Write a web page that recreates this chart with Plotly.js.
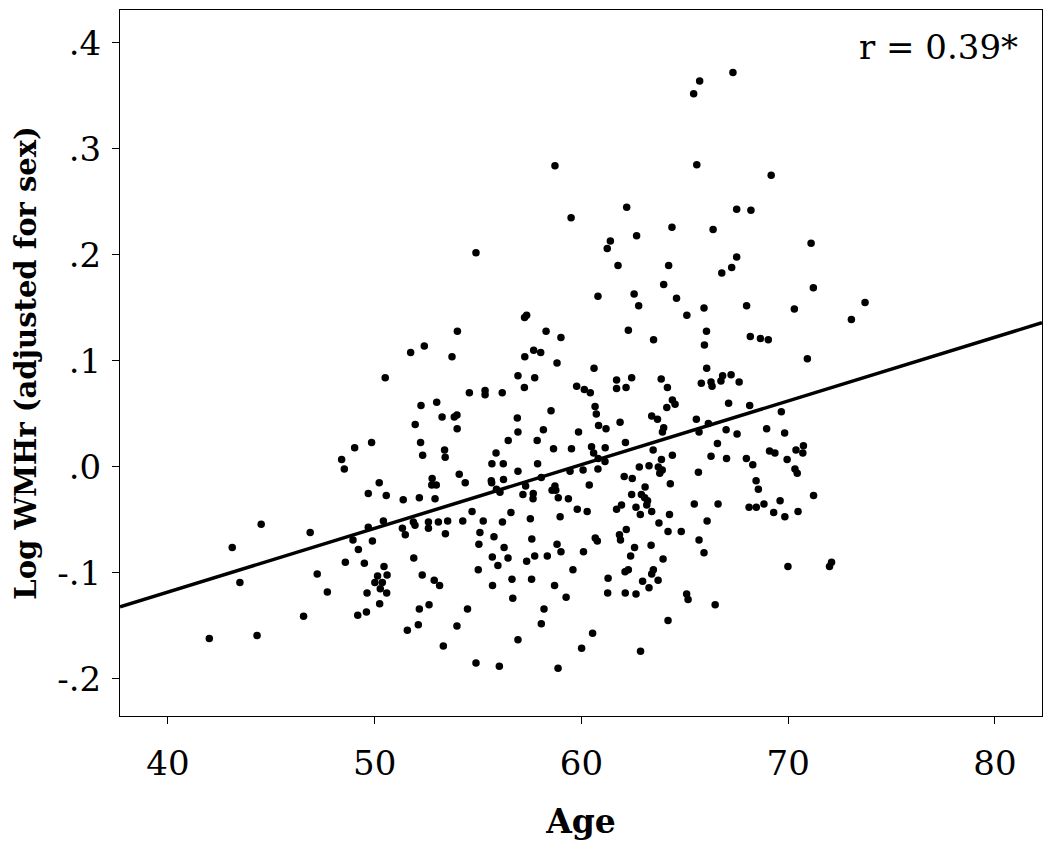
<!DOCTYPE html>
<html>
<head>
<meta charset="utf-8">
<script src="https://cdn.plot.ly/plotly-3.0.1.min.js"></script>
<style>
  body { margin: 0; background: #fff; }
  #grafico { width: 1050px; height: 857px; }
</style>
</head>
<body>
<div id="grafico"></div>
<script>
// Age and log WMHr (adjusted for sex), one entry per participant
const ages = [
    67.33, 65.72, 65.43, 65.58, 69.18, 67.51, 68.20, 58.72, 62.19, 59.50, 51.74, 52.40, 54.90, 61.40, 61.25, 62.67,
    61.77, 60.80, 62.55, 62.77, 57.25, 57.35, 54.00, 58.29, 59.01, 62.27, 63.49, 53.74, 57.26, 57.69, 58.03, 58.82, 60.61,
    64.38, 66.37, 71.11, 67.51, 67.27, 66.79, 64.22, 63.98, 71.22, 64.60, 65.10, 65.93, 67.99, 70.30, 73.72, 73.06,
    66.05, 65.95, 68.17, 68.66, 69.04, 70.93, 66.06,
    50.51, 52.24, 51.96, 52.22, 52.32, 49.85, 49.03, 48.40, 48.53, 50.22, 49.69, 50.56, 51.38, 52.16, 44.51, 50.42, 51.87,
    56.93, 57.74, 57.24, 54.58, 55.34, 55.34, 56.17, 59.77, 60.14, 60.43, 61.70, 61.70, 62.16, 62.43, 53.00, 53.26,
    53.85, 53.98, 53.99, 58.53, 60.66, 60.72, 60.83, 61.19, 61.87, 63.40, 56.90, 56.93, 58.16, 59.86, 56.46, 57.86,
    62.13, 53.38, 53.41, 55.87, 58.65, 59.52, 60.49, 60.59, 61.15, 63.47, 55.67, 56.22, 57.88, 60.81, 61.14, 56.93,
    60.08, 60.80, 59.45, 62.80, 63.27, 52.78, 54.09, 54.38, 52.76, 52.98, 55.64, 55.66, 56.23, 58.06, 57.30, 55.89,
    56.06, 60.38, 62.07, 62.46, 63.08, 58.72, 58.58, 58.76, 52.92, 57.17, 57.67, 57.66, 58.88, 59.37, 62.43, 62.90,
    63.06, 63.20, 63.16, 61.70, 61.94, 62.64, 54.71, 56.59, 59.80, 60.28, 58.97, 57.53, 52.60, 53.08, 53.53, 54.26,
    55.25, 56.18, 62.85, 63.40,
    63.86, 64.16, 65.80, 66.27, 66.32, 66.75, 66.83, 67.24, 67.63, 64.40, 64.53, 64.13, 67.12, 68.14, 69.67, 63.68,
    65.56, 66.14, 63.98, 63.92, 65.69, 67.00, 67.53, 68.96, 69.83, 66.58, 64.40, 66.27, 69.10, 69.36, 70.38, 70.74,
    70.71, 63.87, 67.02, 67.98, 68.29, 69.95, 63.72, 63.91, 63.79, 65.66, 70.33, 70.44, 64.30, 68.45, 68.56, 71.23,
    65.46, 66.61, 68.11, 68.46, 68.83, 69.61, 69.30, 69.84, 70.48, 64.26, 66.08, 63.75,
    46.88, 43.11, 43.48, 42.00, 44.31, 46.56, 47.22, 47.71, 48.58, 48.95, 49.21, 49.50, 49.89, 49.69, 50.45, 50.60,
    50.14, 50.01, 50.37, 50.27, 49.63, 50.58, 50.24, 49.18, 49.60, 51.34, 51.48, 51.95, 51.89, 52.30, 52.16, 52.11, 51.58,
    52.60, 53.42, 55.09, 55.04, 55.77, 56.26, 55.69, 55.96, 56.45, 55.01, 57.35, 57.74, 57.60, 58.35, 58.82, 59.01,
    60.10, 59.59, 60.67, 60.77, 61.84, 61.89, 62.17, 62.57, 62.38, 63.37, 62.11, 62.27, 63.48, 63.40, 62.96, 63.27,
    61.29, 61.27, 62.12, 62.64, 52.88, 53.14, 52.63, 55.70, 56.64, 57.59, 56.68, 58.70, 59.26, 54.49, 58.19, 58.06,
    53.98, 53.32, 56.93, 60.54, 60.01, 62.86, 54.90, 56.03, 58.87,
    64.19, 64.83, 65.69, 65.93, 63.95, 63.71, 65.09, 65.16, 66.47, 64.19, 69.99, 72.10, 72.00
];
const logWMHr = [
    0.372, 0.364, 0.352, 0.285, 0.275, 0.243, 0.242, 0.284, 0.245, 0.235, 0.108, 0.114, 0.202, 0.213, 0.206, 0.218,
    0.190, 0.161, 0.163, 0.152, 0.141, 0.143, 0.128, 0.128, 0.122, 0.129, 0.120, 0.104, 0.104, 0.110, 0.108, 0.098, 0.093,
    0.226, 0.224, 0.211, 0.198, 0.188, 0.183, 0.190, 0.172, 0.169, 0.159, 0.143, 0.150, 0.152, 0.149, 0.155, 0.139,
    0.128, 0.115, 0.123, 0.121, 0.120, 0.102, 0.093,
    0.084, 0.058, 0.040, 0.023, 0.011, 0.023, 0.018, 0.007, -0.002, -0.015, -0.025, -0.027, -0.031, -0.029, -0.054, -0.051, -0.052,
    0.086, 0.084, 0.075, 0.070, 0.072, 0.068, 0.070, 0.076, 0.073, 0.070, 0.082, 0.074, 0.075, 0.084, 0.061, 0.047,
    0.047, 0.049, 0.036, 0.053, 0.057, 0.050, 0.039, 0.036, 0.042, 0.048, 0.046, 0.033, 0.035, 0.033, 0.025, 0.025,
    0.023, 0.016, 0.009, 0.013, 0.017, 0.017, 0.019, 0.013, 0.018, 0.016, 0.003, 0.003, 0.003, 0.008, 0.005, -0.004,
    -0.003, -0.002, -0.004, 0.000, 0.001, -0.011, -0.007, -0.015, -0.017, -0.017, -0.013, -0.015, -0.012, -0.010, -0.018, -0.021,
    -0.024, -0.017, -0.009, -0.011, -0.019, -0.018, -0.022, -0.022, -0.030, -0.026, -0.025, -0.030, -0.029, -0.030, -0.026, -0.026,
    -0.029, -0.032, -0.036, -0.040, -0.036, -0.038, -0.042, -0.043, -0.040, -0.042, -0.047, -0.049, -0.052, -0.052, -0.051, -0.051,
    -0.051, -0.052, -0.045, -0.042,
    0.083, 0.075, 0.079, 0.080, 0.076, 0.081, 0.086, 0.087, 0.080, 0.063, 0.059, 0.056, 0.060, 0.058, 0.052, 0.045,
    0.045, 0.041, 0.037, 0.033, 0.033, 0.035, 0.031, 0.036, 0.032, 0.022, 0.011, 0.010, 0.015, 0.013, 0.016, 0.020,
    0.013, 0.007, 0.008, 0.008, 0.002, 0.007, 0.000, -0.003, -0.006, -0.005, -0.002, -0.006, -0.016, -0.013, -0.021, -0.027,
    -0.035, -0.035, -0.038, -0.038, -0.035, -0.032, -0.043, -0.047, -0.042, -0.045, -0.051, -0.053,
    -0.062, -0.076, -0.109, -0.162, -0.159, -0.141, -0.101, -0.118, -0.090, -0.069, -0.078, -0.091, -0.070, -0.057, -0.094, -0.102,
    -0.103, -0.109, -0.109, -0.115, -0.119, -0.119, -0.129, -0.140, -0.137, -0.058, -0.064, -0.055, -0.086, -0.102, -0.134, -0.149, -0.154,
    -0.058, -0.063, -0.062, -0.073, -0.066, -0.076, -0.085, -0.093, -0.086, -0.097, -0.089, -0.084, -0.068, -0.084, -0.073, -0.080,
    -0.080, -0.097, -0.067, -0.070, -0.064, -0.069, -0.059, -0.076, -0.084, -0.074, -0.099, -0.097, -0.097, -0.101, -0.108, -0.114,
    -0.105, -0.119, -0.119, -0.120, -0.107, -0.112, -0.130, -0.112, -0.106, -0.106, -0.124, -0.112, -0.123, -0.134, -0.134, -0.148,
    -0.150, -0.169, -0.163, -0.157, -0.171, -0.174, -0.185, -0.188, -0.190,
    -0.061, -0.061, -0.069, -0.081, -0.087, -0.107, -0.120, -0.125, -0.130, -0.145, -0.094, -0.090, -0.094
];

// Fit line ends
const fitAges = [37.68, 82.28];
const fitVals = [-0.132, 0.136];

const xTicks = [40, 50, 60, 70, 80];
const yTicks = [-0.2, -0.1, 0.0, 0.1, 0.2, 0.3, 0.4];
const yTickText = ['-.2', '-.1', '.0', '.1', '.2', '.3', '.4'];

const fonte = 'DejaVu Serif';

const data = [
    {
        x: ages,
        y: logWMHr,
        type: 'scatter',
        mode: 'markers',
        marker: { color: '#000', size: 7.5 },
        hoverinfo: 'x+y'
    },
    {
        x: fitAges,
        y: fitVals,
        type: 'scatter',
        mode: 'lines',
        line: { color: '#000', width: 3.5 },
        hoverinfo: 'skip'
    }
];

const layout = {
    width: 1050,
    height: 857,
    margin: { l: 120, r: 8, t: 10, b: 141 },
    showlegend: false,
    plot_bgcolor: '#fff',
    paper_bgcolor: '#fff',
    font: { family: fonte, color: '#000' },
    xaxis: {
        range: [37.68, 82.28],
        tickvals: xTicks,
        ticks: 'outside',
        ticklen: 7,
        tickcolor: '#000',
        ticklabelstandoff: 10,
        tickfont: { family: fonte, size: 34 },
        showline: true,
        mirror: true,
        linecolor: '#000',
        linewidth: 1,
        showgrid: false,
        zeroline: false,
        title: {
            text: '<b>Age</b>',
            font: { family: fonte, size: 33 },
            standoff: 28
        }
    },
    yaxis: {
        range: [-0.235, 0.431],
        tickvals: yTicks,
        ticktext: yTickText,
        ticks: 'outside',
        ticklen: 7,
        tickcolor: '#000',
        ticklabelstandoff: 4,
        tickfont: { family: fonte, size: 34 },
        showline: true,
        mirror: true,
        linecolor: '#000',
        linewidth: 1,
        showgrid: false,
        zeroline: false,
        title: {
            text: '<b>Log WMHr (adjusted for sex)</b>',
            font: { family: fonte, size: 29 },
            standoff: 12
        }
    },
    annotations: [
        {
            text: 'r = 0.39*',
            xref: 'paper',
            yref: 'paper',
            x: 0.976,
            y: 0.948,
            xanchor: 'right',
            yanchor: 'middle',
            showarrow: false,
            font: { family: fonte, size: 34 }
        }
    ]
};

Plotly.newPlot('grafico', data, layout, { displayModeBar: false });
</script>
</body>
</html>
